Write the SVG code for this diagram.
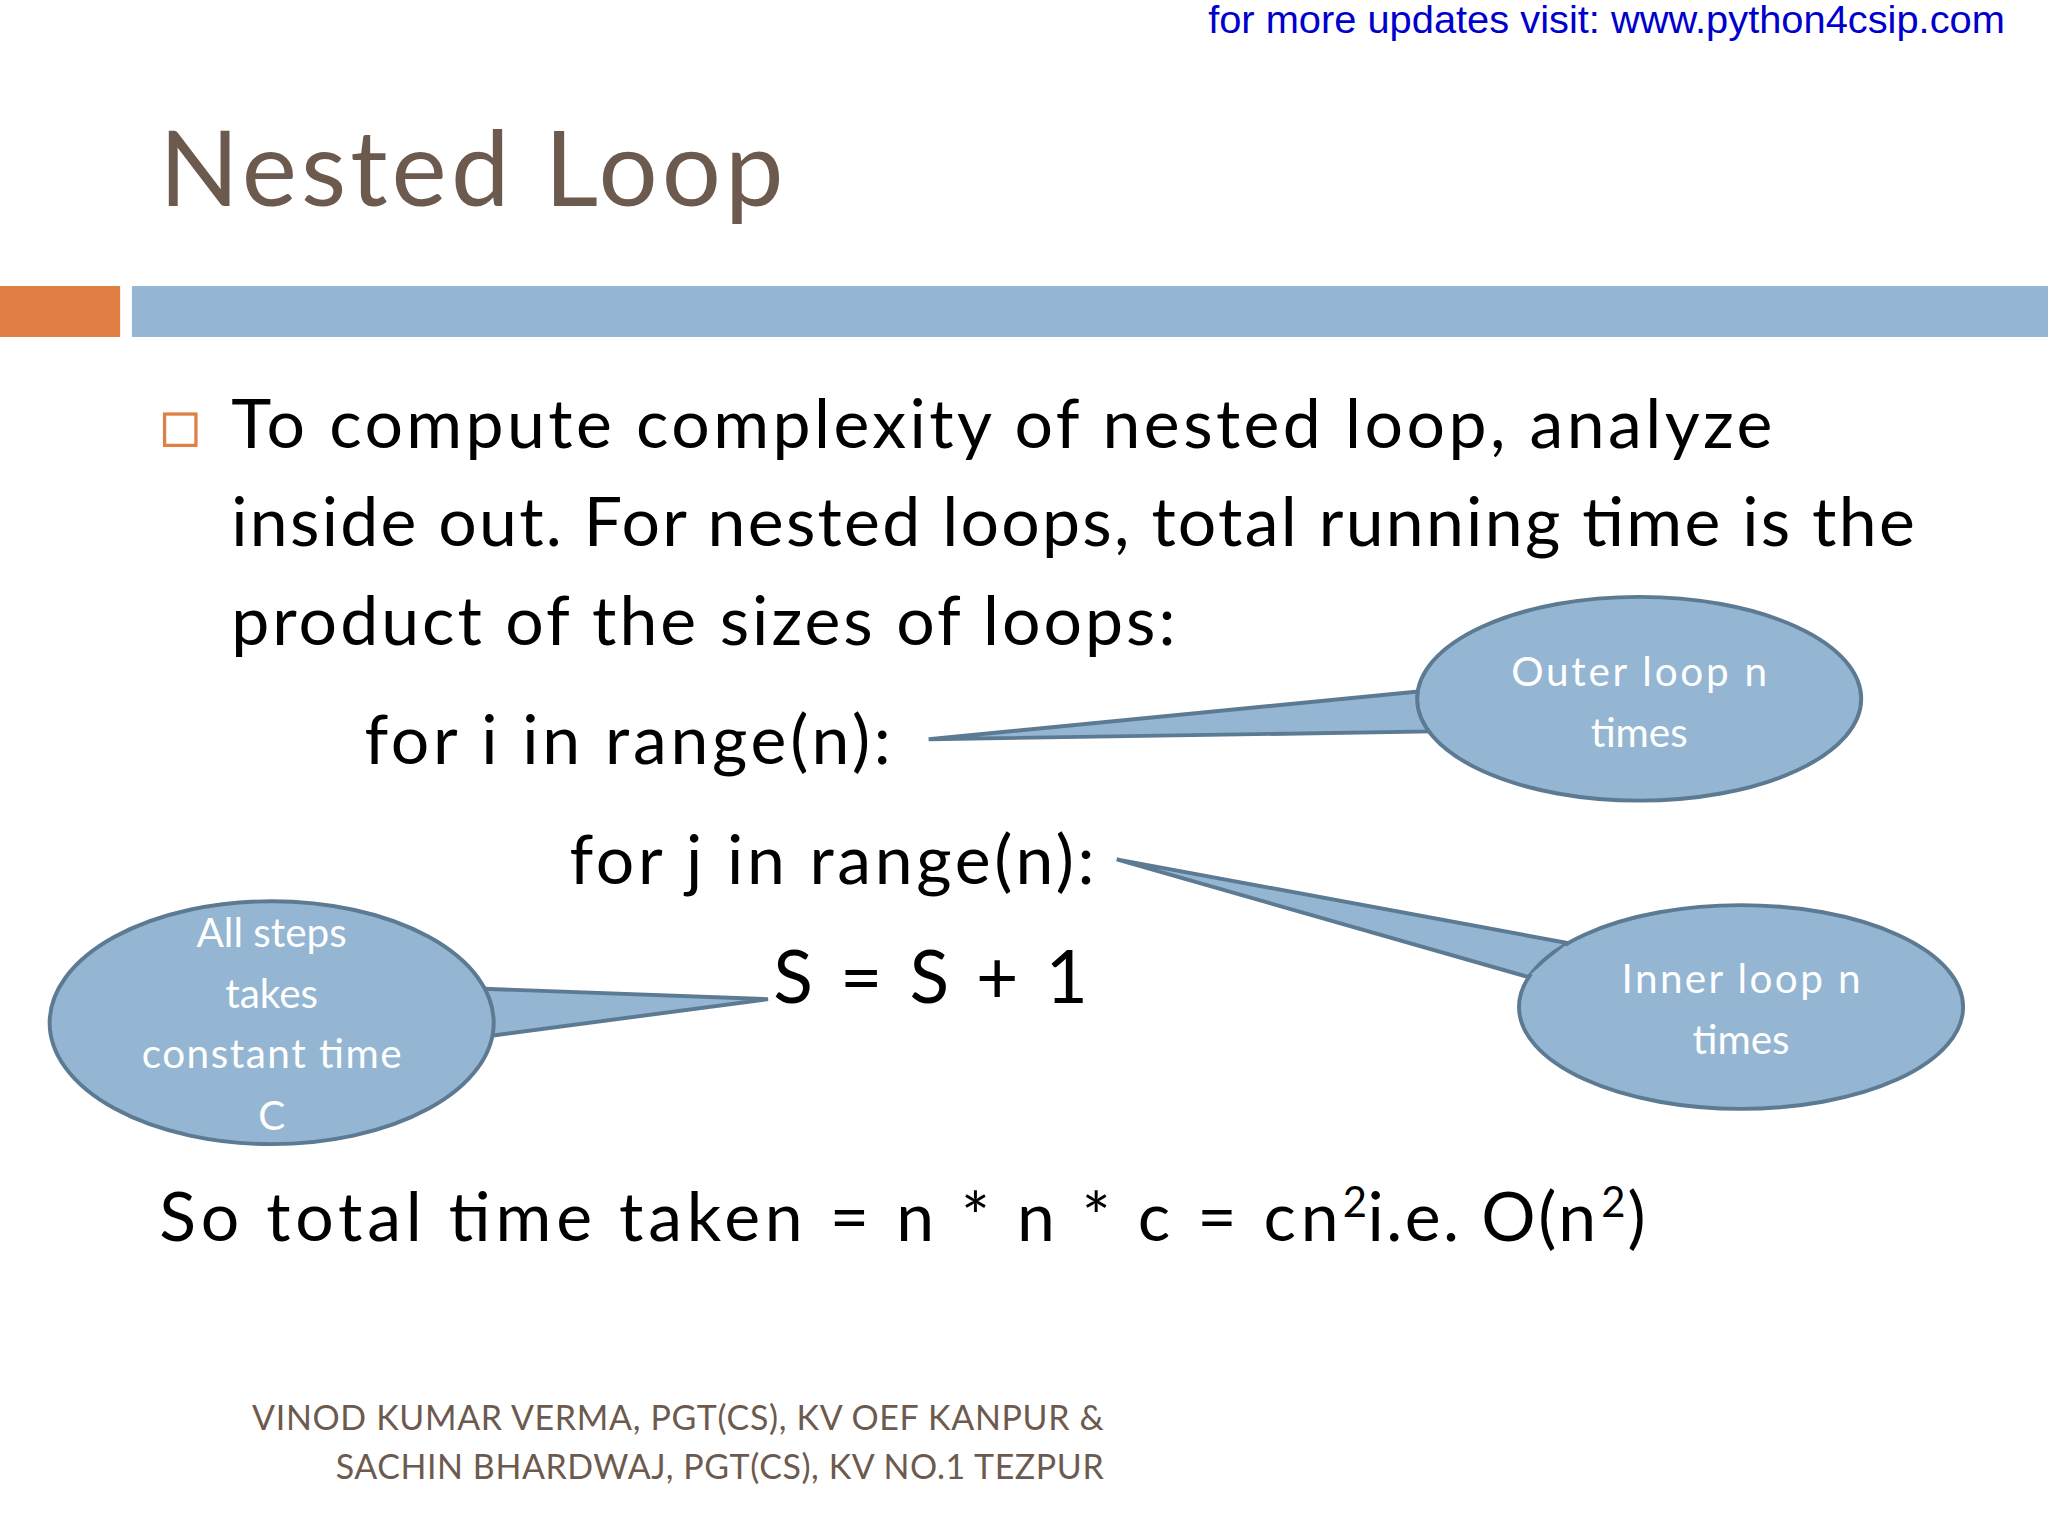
<svg xmlns="http://www.w3.org/2000/svg" width="2048" height="1536" viewBox="0 0 2048 1536">
<style>
.b{font-family:Lato,"Noto Sans",sans-serif;fill:#000;font-size:52px}
.s{font-family:Lato,"Noto Sans",sans-serif;fill:#000;font-size:32px}
.c{fill:#94b6d2;stroke:#5d7a93;stroke-width:3}
.cf{fill:#94b6d2;stroke:none}
.ct{font-family:Lato,"Noto Sans",sans-serif;fill:#fff;font-size:31px;text-anchor:middle}
.f{font-family:Lato,"Noto Sans",sans-serif;fill:#6d5a4e;font-size:26px}
</style>
<rect width="2048" height="1536" fill="#fff"/>
<g transform="scale(1.30612)">
<text x="925" y="25" font-family="Liberation Sans,Arial,sans-serif" font-size="29" fill="#0000cc" textLength="610" lengthAdjust="spacingAndGlyphs">for more updates visit: www.python4csip.com</text>
<text x="122" y="158" font-family="Lato,'Noto Sans',sans-serif" font-size="80" fill="#6d5a4e" textLength="478">Nested Loop</text>
<rect x="0" y="219" width="92" height="39" fill="#e07f43"/>
<rect x="101" y="219" width="1467" height="39" fill="#94b6d2"/>
<rect x="126" y="317" width="24" height="24" fill="none" stroke="#e07f43" stroke-width="2.5"/>
<text class="b" x="177" y="343" textLength="1180">To compute complexity of nested loop, analyze</text>
<text class="b" x="177" y="418" textLength="1289">inside out. For nested loops, total running time is the</text>
<text class="b" x="177" y="494" textLength="723">product of the sizes of loops:</text>
<text class="b" x="279" y="585" textLength="403">for i in range(n):</text>
<text class="b" x="436" y="677" textLength="402">for j in range(n):</text>
<text class="b" x="592" y="768" style="font-size:56px" textLength="241">S = S + 1</text>
<text class="b" x="122" y="950" textLength="903">So total time taken = n * n * c = cn</text>
<text class="s" x="1028" y="932">2</text>
<text class="b" x="1047" y="950" textLength="175">i.e. O(n</text>
<text class="s" x="1226" y="932">2</text>
<text class="b" x="1246" y="950">)</text>
<g id="outer">
<polygon class="c" points="1090,529 711,566 1096,560"/>
<ellipse class="c" cx="1255" cy="535" rx="170" ry="78"/>
<polygon class="cf" points="1090,531 1096,558 1120,558 1120,531"/>
<text class="ct" x="1255" y="525" textLength="196">Outer loop n</text>
<text class="ct" x="1255" y="572">times</text>
</g>
<g id="inner">
<polygon class="c" points="1200,722 855,658 1170,748"/>
<ellipse class="c" cx="1333" cy="771" rx="170" ry="78"/>
<polygon class="cf" points="1198,724 1172,746 1200,752 1215,730"/>
<text class="ct" x="1333" y="760" textLength="183">Inner loop n</text>
<text class="ct" x="1333" y="807">times</text>
</g>
<g id="steps">
<polygon class="c" points="370,757 588,765 376,793"/>
<ellipse class="c" cx="208" cy="783" rx="170" ry="93"/>
<polygon class="cf" points="368,759 374,791 350,791 350,759"/>
<text class="ct" x="208" y="725">All steps</text>
<text class="ct" x="208" y="772">takes</text>
<text class="ct" x="208" y="818" textLength="199">constant time</text>
<text class="ct" x="208" y="865">C</text>
</g>
<text class="f" x="193" y="1095" textLength="652">VINOD KUMAR VERMA, PGT(CS), KV OEF KANPUR &amp;</text>
<text class="f" x="257" y="1132" textLength="588">SACHIN BHARDWAJ, PGT(CS), KV NO.1  TEZPUR</text>
</g>
</svg>
